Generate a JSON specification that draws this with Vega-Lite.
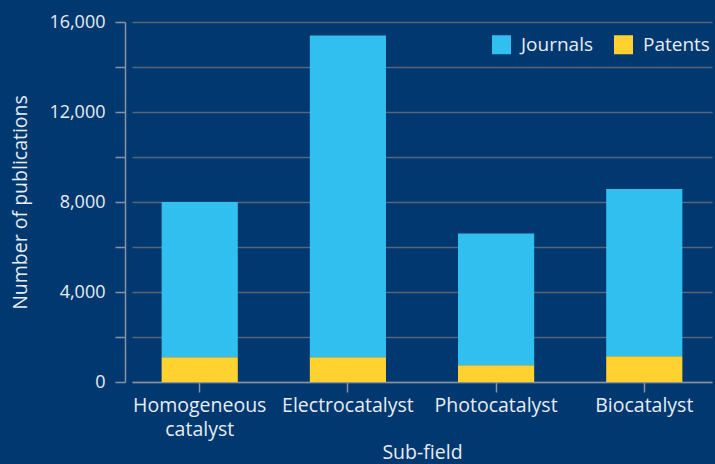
{
  "$schema": "https://vega.github.io/schema/vega-lite/v6.json",
  "width": 580,
  "height": 360,
  "autosize": {"type": "none"},
  "padding": {"left": 132, "top": 22, "right": 3, "bottom": 82},
  "background": "#00386f",
  "config": {
    "view": {"stroke": null},
    "font": "Open Sans",
    "axis": {
      "labelFont": "Open Sans",
      "titleFont": "Open Sans",
      "labelFontSize": 18,
      "titleFontSize": 19.5,
      "labelColor": "#e6edf5",
      "titleColor": "#e6edf5",
      "titleFontWeight": "normal",
      "domainColor": "#8a93a2",
      "tickColor": "#8a93a2",
      "gridColor": "#56657a",
      "domainWidth": 1.5,
      "tickWidth": 1.5,
      "gridWidth": 1.5,
      "tickSize": 10
    },
    "legend": {
      "labelFont": "Open Sans",
      "labelFontSize": 19,
      "labelColor": "#e6edf5"
    }
  },
  "data": {
    "values": [
      {"subfield": "Homogeneous catalyst", "type": "Journals", "count": 6900},
      {"subfield": "Homogeneous catalyst", "type": "Patents", "count": 1100},
      {"subfield": "Electrocatalyst", "type": "Journals", "count": 14300},
      {"subfield": "Electrocatalyst", "type": "Patents", "count": 1100},
      {"subfield": "Photocatalyst", "type": "Journals", "count": 5850},
      {"subfield": "Photocatalyst", "type": "Patents", "count": 750},
      {"subfield": "Biocatalyst", "type": "Journals", "count": 7430},
      {"subfield": "Biocatalyst", "type": "Patents", "count": 1150}
    ]
  },
  "mark": {"type": "bar"},
  "encoding": {
    "x": {
      "field": "subfield",
      "type": "nominal",
      "sort": ["Homogeneous catalyst", "Electrocatalyst", "Photocatalyst", "Biocatalyst"],
      "scale": {"paddingInner": 0.486, "paddingOuter": 0.2},
      "title": "Sub-field",
      "axis": {
        "labelAngle": 0,
        "labelFontSize": 19.5,
        "labelExpr": "split(datum.label, ' ')",
        "labelLineHeight": 24,
        "labelPadding": 4,
        "titlePadding": 5
      }
    },
    "y": {
      "field": "count",
      "type": "quantitative",
      "stack": "zero",
      "scale": {"domain": [0, 16000], "nice": false},
      "title": "Number of publications",
      "axis": {
        "values": [0, 2000, 4000, 6000, 8000, 10000, 12000, 14000, 16000],
        "labelExpr": "datum.value % 4000 == 0 ? format(datum.value, ',') : ''",
        "offset": 7,
        "labelPadding": 10,
        "titlePadding": 18
      }
    },
    "color": {
      "field": "type",
      "type": "nominal",
      "scale": {"domain": ["Journals", "Patents"], "range": ["#31bfef", "#ffd230"]},
      "legend": {
        "title": null,
        "orient": "none",
        "legendX": 360,
        "legendY": 13,
        "direction": "horizontal",
        "symbolType": "square",
        "symbolSize": 361,
        "symbolStrokeWidth": 0,
        "symbolOpacity": 1,
        "labelOffset": 10,
        "columnPadding": 20
      }
    },
    "order": {"field": "type", "sort": "descending"}
  }
}
